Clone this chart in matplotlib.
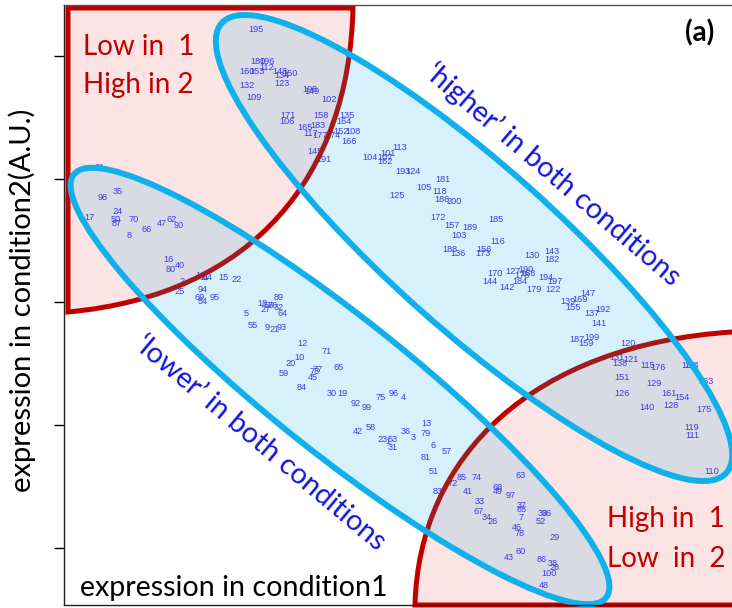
import matplotlib
matplotlib.use("Agg")
import matplotlib.pyplot as plt
from matplotlib.patches import Ellipse, PathPatch
from matplotlib.path import Path

# gene ids and their expression (A.U.) in condition 1 / condition 2
hi_ids = [195, 180, 196, 112, 160, 153, 148, 150, 134, 123, 132, 109, 198, 149,
          102, 171, 106, 158, 135, 164, 165, 183, 117, 177, 174, 152, 108, 166,
          145, 191, 113, 104, 101, 107, 162, 193, 124, 181, 105, 118, 125, 186,
          200, 172, 185, 157, 189, 103, 116, 188, 136, 156, 173, 130, 143, 182,
          170, 144, 127, 190, 178, 168, 184, 142, 179, 194, 197, 122, 147, 169,
          139, 155, 137, 192, 141, 187, 199, 159, 120, 131, 138, 121, 115, 176,
          133, 114, 151, 129, 163, 126, 161, 154, 140, 128, 175, 119, 111, 110]
hi_c1 = [192, 194, 203, 203, 183, 193, 216, 226, 218, 218, 183, 190, 246, 248,
         265, 224, 223, 257, 283, 280, 241, 254, 247, 256, 269, 277, 289, 285,
         251, 260, 336, 306, 324, 321, 321, 339, 349, 379, 360, 376, 333, 378,
         390, 374, 432, 388, 406, 395, 434, 386, 394, 420, 419, 468, 488, 488,
         431, 426, 449, 462, 458, 464, 456, 443, 470, 482, 491, 489, 524, 516,
         504, 509, 528, 539, 535, 513, 528, 522, 564, 553, 556, 567, 584, 594,
         625, 628, 558, 590, 642, 558, 605, 618, 583, 607, 640, 628, 628, 648]
hi_c2 = [575, 544, 543, 538, 534, 533, 533, 532, 529, 521, 519, 508, 515, 513,
         506, 490, 483, 489, 489, 483, 478, 479, 471, 470, 469, 473, 473, 463,
         454, 446, 457, 448, 451, 447, 444, 433, 433, 425, 418, 414, 410, 406,
         403, 388, 386, 379, 378, 369, 363, 355, 351, 355, 351, 350, 354, 345,
         332, 323, 333, 336, 330, 331, 324, 317, 316, 328, 324, 315, 311, 306,
         303, 297, 291, 295, 282, 266, 267, 261, 261, 248, 242, 246, 239, 237,
         240, 239, 228, 221, 223, 212, 212, 208, 197, 199, 196, 177, 170, 133]

lo_ids = [61, 98, 35, 17, 24, 50, 87, 70, 66, 47, 62, 90, 8, 16, 40, 80, 14,
          11, 44, 15, 22, 2, 25, 94, 69, 54, 95, 18, 56, 76, 89, 27, 32, 5, 64,
          55, 9, 21, 93, 12, 71, 10, 20, 65, 59, 77, 73, 45, 84, 30, 19, 92, 75,
          96, 4, 99, 13, 42, 58, 23, 53, 1, 31, 36, 3, 79, 6, 57, 81, 51, 83,
          72, 85, 74, 41, 63, 68, 49, 97, 33, 67, 34, 26, 37, 88, 7, 39, 36, 52,
          46, 78, 29, 60, 43, 86, 38, 28, 100, 48]
lo_c1 = [36, 39, 54, 25, 54, 52, 53, 70, 83, 98, 108, 115, 65, 104, 116, 107,
         136, 140, 144, 159, 173, 118, 116, 139, 136, 139, 151, 198, 205, 209,
         215, 202, 215, 182, 219, 189, 203, 211, 218, 238, 263, 235, 227, 275,
         220, 254, 251, 249, 238, 268, 278, 292, 317, 330, 339, 303, 362, 294,
         307, 319, 329, 324, 329, 342, 349, 362, 369, 383, 362, 370, 374, 389,
         398, 413, 404, 457, 434, 434, 447, 416, 415, 423, 429, 458, 458, 457,
         479, 483, 477, 453, 456, 491, 457, 445, 478, 489, 491, 485, 480]
lo_c2 = [437, 408, 413, 388, 393, 385, 382, 385, 376, 381, 386, 379, 369, 346,
         340, 335, 330, 327, 327, 328, 325, 324, 314, 315, 307, 304, 307, 301,
         300, 300, 307, 295, 297, 291, 291, 280, 277, 275, 277, 261, 254, 247,
         241, 237, 231, 235, 233, 228, 218, 211, 211, 202, 208, 212, 208, 197,
         182, 173, 177, 166, 166, 164, 157, 173, 167, 171, 159, 153, 148, 134,
         114, 122, 128, 128, 114, 129, 117, 114, 109, 104, 94, 88, 84, 99, 96,
         88, 92, 92, 84, 78, 71, 68, 54, 47, 45, 41, 37, 31, 19]

y_ticks = [57, 180, 303, 426, 549]

pink = "#fde4e4"
red = "#c00000"
dark_red = "#a31a1a"
sky = "#d6f1fb"
overlap = "#d8dae4"
cyan = "#12b0ea"
word_blue = "#1414e0"
calibri_like = "Lato"

fig = plt.figure(figsize=(7.32, 6.08), dpi=100)
ax = fig.add_axes([64 / 732, 3 / 608, 668 / 732, 600 / 608])
ax.set_xlim(0, 668)
ax.set_ylim(0, 600)
ax.set_xticks([])
ax.set_yticks(y_ticks)
ax.tick_params(axis="y", direction="out", length=7, width=1, labelleft=False)
ax.spines["right"].set_visible(False)
for s in ("left", "bottom", "top"):
    ax.spines[s].set_linewidth(1.0)
    ax.spines[s].set_color("#222222")
    ax.spines[s].set_zorder(8)
ax.spines["top"].set_color("#555555")


def corner(p0, c1, c2, p3, tail):
    verts = [p0, c1, c2, p3] + tail + [p0]
    codes = [Path.MOVETO, Path.CURVE4, Path.CURVE4, Path.CURVE4]
    codes += [Path.LINETO] * len(tail) + [Path.CLOSEPOLY]
    return Path(verts, codes)


# "low in 1 / high in 2" corner and "high in 1 / low in 2" corner
reg_paths = [
    corner((289, 597), (285, 430), (190, 310), (4, 293), [(4, 597)]),
    corner((351, 0), (355, 150), (470, 260), (668, 273), [(700, 275), (700, 0)]),
]
regions = []
for p in reg_paths:
    patch = PathPatch(p, facecolor=pink, edgecolor=red, lw=3.6, zorder=1,
                      clip_on=False)
    ax.add_patch(patch)
    regions.append(patch)

# cluster outlines: 'higher' and 'lower' in both conditions
ell_specs = [((410, 357), 676, 164, -41.7), ((276, 219), 680, 136, -38.5)]
ells = []
for c, w, h, a in ell_specs:
    e = Ellipse(c, w, h, angle=a, facecolor=sky, edgecolor="none", zorder=2)
    ax.add_patch(e)
    ells.append(e)

for reg, p in zip(regions, reg_paths):
    for (c, w, h, a), e in zip(ell_specs, ells):
        g = Ellipse(c, w, h, angle=a, facecolor=overlap, edgecolor="none", zorder=3)
        g.set_clip_path(reg)
        ax.add_patch(g)
        d = PathPatch(p, facecolor="none", edgecolor=dark_red, lw=3.6, zorder=4)
        d.set_clip_path(e)
        ax.add_patch(d)

for c, w, h, a in ell_specs:
    ax.add_patch(Ellipse(c, w, h, angle=a, facecolor="none", edgecolor=cyan,
                         lw=4.3, zorder=5, clip_on=False))

# gene labels sit under the outlines
for ids, c1, c2 in ((hi_ids, hi_c1, hi_c2), (lo_ids, lo_c1, lo_c2)):
    for g, x, y in zip(ids, c1, c2):
        ax.text(x, y, str(g), ha="center", va="center", fontsize=6.6,
                family="Liberation Sans", color="#3c3ce6", zorder=3.5)

red_kw = dict(family=calibri_like, fontsize=20, zorder=7, color=red,
              ha="left", va="baseline")
ax.text(19, 550, "Low in  1", **red_kw)
ax.text(19, 512, "High in 2", **red_kw)
ax.text(543, 78, "High in  1", **red_kw)
ax.text(543, 38, "Low  in  2", **red_kw)

big = dict(family=calibri_like, fontsize=20.6, zorder=7)
ax.text(489, 430, "\u2018higher\u2019 in both conditions", color=word_blue,
        rotation=-40.5, rotation_mode="anchor", ha="center", va="center", **big)
ax.text(196, 162, "\u2018lower\u2019 in both conditions", color=word_blue,
        rotation=-40, rotation_mode="anchor", ha="center", va="center", **big)
ax.text(16, 9, "expression in condition1", color="black", ha="left",
        va="baseline", **big)
ax.text(636, 572, "(a)", color="black", ha="center", va="center",
        fontweight="bold", family=calibri_like, fontsize=20, zorder=7)
fig.text(22 / 732, 1 - 300 / 608, "expression in condition2(A.U.)",
         rotation=90, ha="center", va="center", family=calibri_like,
         fontsize=21)

fig.savefig("out.png", dpi=100)
